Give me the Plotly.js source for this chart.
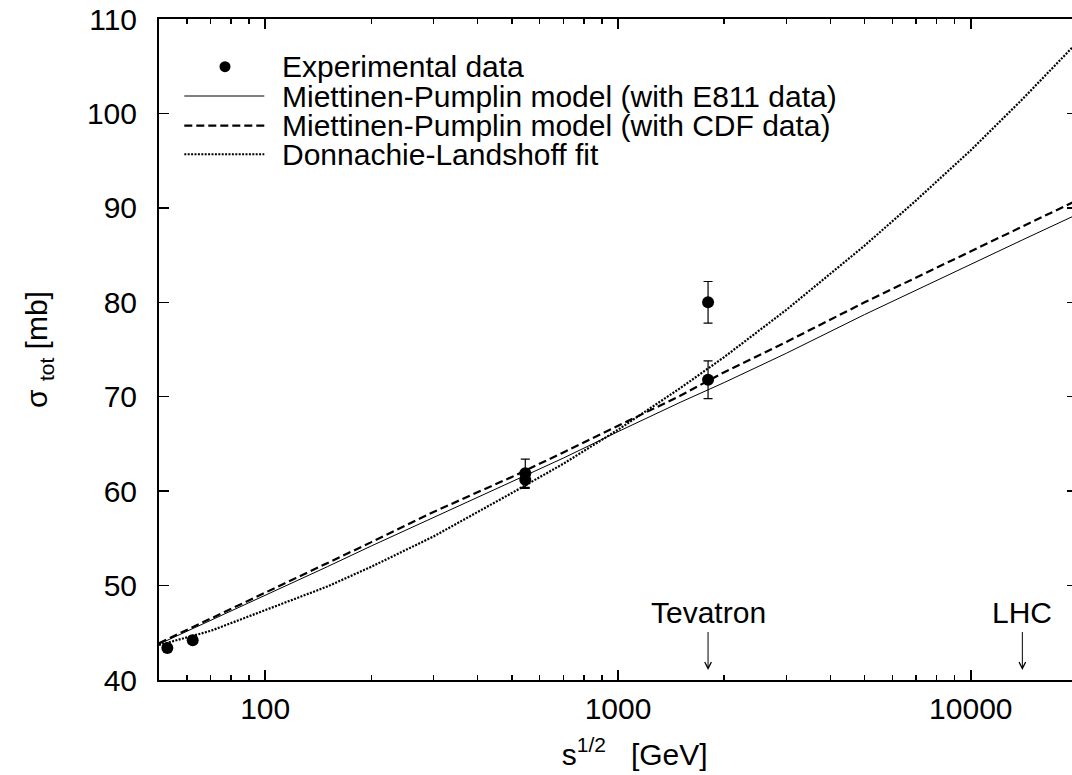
<!DOCTYPE html>
<html>
<head>
<meta charset="utf-8">
<script src="https://cdn.plot.ly/plotly-3.0.1.min.js"></script>
<style>
html, body { margin: 0; padding: 0; overflow: hidden; background: #fff; }
#chart { width: 1078px; height: 775px; }
</style>
</head>
<body>
<div id="chart"></div>
<script>
// Experimental data (sqrt(s) in GeV, sigma_tot in mb)
const expEnergy = [52.8, 62.3, 546, 546, 1800, 1800];
const expSigma  = [43.4, 44.2, 61.9, 61.2, 80.0, 71.8];
const expError  = [0.3, 0.3, 1.5, 0.9, 2.2, 2.0];

// Model curves
const curveEnergy = [50, 70, 100, 150, 200, 300, 500, 700, 1000, 1500, 2000, 3000, 5000, 7000, 10000, 14000, 20000];
const mpE811 = [43.8, 46.3, 49.0, 52.0, 54.2, 57.2, 61.0, 63.5, 66.3, 69.4, 71.5, 74.6, 78.7, 81.3, 84.0, 86.6, 89.3];
const mpCDF  = [43.9, 46.5, 49.2, 52.4, 54.6, 57.8, 61.5, 64.1, 66.9, 70.1, 72.6, 75.8, 80.0, 82.6, 85.4, 88.0, 90.8];
const dlFit  = [43.7, 45.2, 47.4, 49.9, 52.0, 55.2, 59.8, 62.9, 66.5, 70.9, 74.2, 79.2, 86.0, 90.8, 96.1, 101.5, 107.5];

// Tick labels
const xMajorTicks = [100, 1000, 10000];
const xMajorLabels = ["100", "1000", "10000"];
const xMinorTicks = [60, 70, 80, 90, 200, 300, 400, 500, 600, 700, 800, 900,
                     2000, 3000, 4000, 5000, 6000, 7000, 8000, 9000];

// Legend labels
const legendLabels = [
  "Experimental data",
  "Miettinen-Pumplin model (with E811 data)",
  "Miettinen-Pumplin model (with CDF data)",
  "Donnachie-Landshoff fit"
];

// Accelerator markers
const accelNames = ["Tevatron", "LHC"];
const accelEnergy = [1800, 14000];

const FONT = "Liberation Sans, Arial, Helvetica, sans-serif";
const FS = 30;
const NB = "\u00A0";
const ZW = "\u200B";

const dotDash = "2px,1.4px";

const traces = [
  {
    x: curveEnergy, y: mpE811, type: "scatter", mode: "lines",
    line: { color: "black", width: 1 }, name: legendLabels[1], hoverinfo: "skip"
  },
  {
    x: curveEnergy, y: mpCDF, type: "scatter", mode: "lines",
    line: { color: "black", width: 2.2, dash: "8px,4px" }, name: legendLabels[2], hoverinfo: "skip"
  },
  {
    x: curveEnergy, y: dlFit, type: "scatter", mode: "lines",
    line: { color: "black", width: 2.2, dash: dotDash }, name: legendLabels[3], hoverinfo: "skip"
  },
  {
    x: expEnergy, y: expSigma, type: "scatter", mode: "markers",
    marker: { color: "black", size: 12 },
    error_y: { type: "data", array: expError, visible: true, color: "black", thickness: 1.2, width: 4.5 },
    name: legendLabels[0], cliponaxis: false
  }
];

// Custom legend (layout in paper coordinates)
const plotL = 159, plotT = 19, plotW = 918, plotH = 661;
const px = v => (v - plotL) / plotW;
const py = v => (plotT + plotH - v) / plotH;
const rowY = [66.7, 96, 125.7, 154.3];
const sampleX0 = 184.3, sampleX1 = 264.3, dotX = 225, textX = 280;

const shapes = [
  { type: "circle", xref: "paper", yref: "paper", xsizemode: "pixel", ysizemode: "pixel",
    xanchor: px(dotX), yanchor: py(rowY[0]), x0: -5.5, x1: 5.5, y0: -5.5, y1: 5.5,
    fillcolor: "black", line: { width: 0 } },
  { type: "line", xref: "paper", yref: "paper", x0: px(sampleX0), x1: px(sampleX1),
    y0: py(rowY[1]), y1: py(rowY[1]), line: { color: "black", width: 1 } },
  { type: "line", xref: "paper", yref: "paper", x0: px(sampleX0), x1: px(sampleX1),
    y0: py(rowY[2]), y1: py(rowY[2]), line: { color: "black", width: 2.2, dash: "8px,4px" } },
  { type: "line", xref: "paper", yref: "paper", x0: px(sampleX0), x1: px(sampleX1),
    y0: py(rowY[3]), y1: py(rowY[3]), line: { color: "black", width: 2, dash: dotDash } }
];

const annotations = legendLabels.map((t, i) => ({
  text: t, xref: "paper", yref: "paper", x: px(textX), y: py(rowY[i]),
  xanchor: "left", yanchor: "middle", showarrow: false,
  font: { family: FONT, size: FS, color: "black" }
}));

accelNames.forEach((name, i) => {
  annotations.push({
    text: name, xref: "x", yref: "y", x: Math.log10(accelEnergy[i]), y: 41.06,
    showarrow: true, ax: 0, ay: -57, arrowhead: 5, arrowsize: 1.3, arrowwidth: 1,
    arrowcolor: "black", startstandoff: 1,
    font: { family: FONT, size: FS, color: "black" }
  });
});

const layout = {
  width: 1078, height: 775,
  margin: { l: plotL, r: 1, t: plotT, b: 95 },
  paper_bgcolor: "white", plot_bgcolor: "white",
  showlegend: false,
  font: { family: FONT, size: FS, color: "black" },
  xaxis: {
    type: "log",
    range: [Math.log10(50), Math.log10(20000)],
    tickmode: "array", tickvals: xMajorTicks, ticktext: xMajorLabels,
    ticks: "inside", ticklen: 10, tickwidth: 1.5, tickcolor: "black",
    minor: { tickmode: "array", tickvals: xMinorTicks, ticks: "inside", ticklen: 5, tickwidth: 1.5, tickcolor: "black", showgrid: false },
    showline: true, linewidth: 2, linecolor: "black", mirror: "ticks",
    showgrid: false, zeroline: false,
    tickfont: { family: FONT, size: FS, color: "black" },
    ticklabelstandoff: 1,
    title: { text: ZW + NB.repeat(4) + "s<sup>1/2</sup>" + NB.repeat(3) + "[GeV]", font: { family: FONT, size: FS, color: "black" }, standoff: 20 }
  },
  yaxis: {
    range: [40, 110], tick0: 40, dtick: 10,
    ticks: "inside", ticklen: 10, tickwidth: 1.5, tickcolor: "black",
    showline: true, linewidth: 2, linecolor: "black", mirror: "ticks",
    showgrid: false, zeroline: false,
    tickfont: { family: FONT, size: FS, color: "black" },
    ticklabelstandoff: 14,
    title: { text: "σ <sub>tot</sub> [mb]", font: { family: FONT, size: FS, color: "black" }, standoff: 30 }
  },
  shapes: shapes,
  annotations: annotations
};

Plotly.newPlot("chart", traces, layout, { staticPlot: true, displayModeBar: false });
</script>
</body>
</html>
